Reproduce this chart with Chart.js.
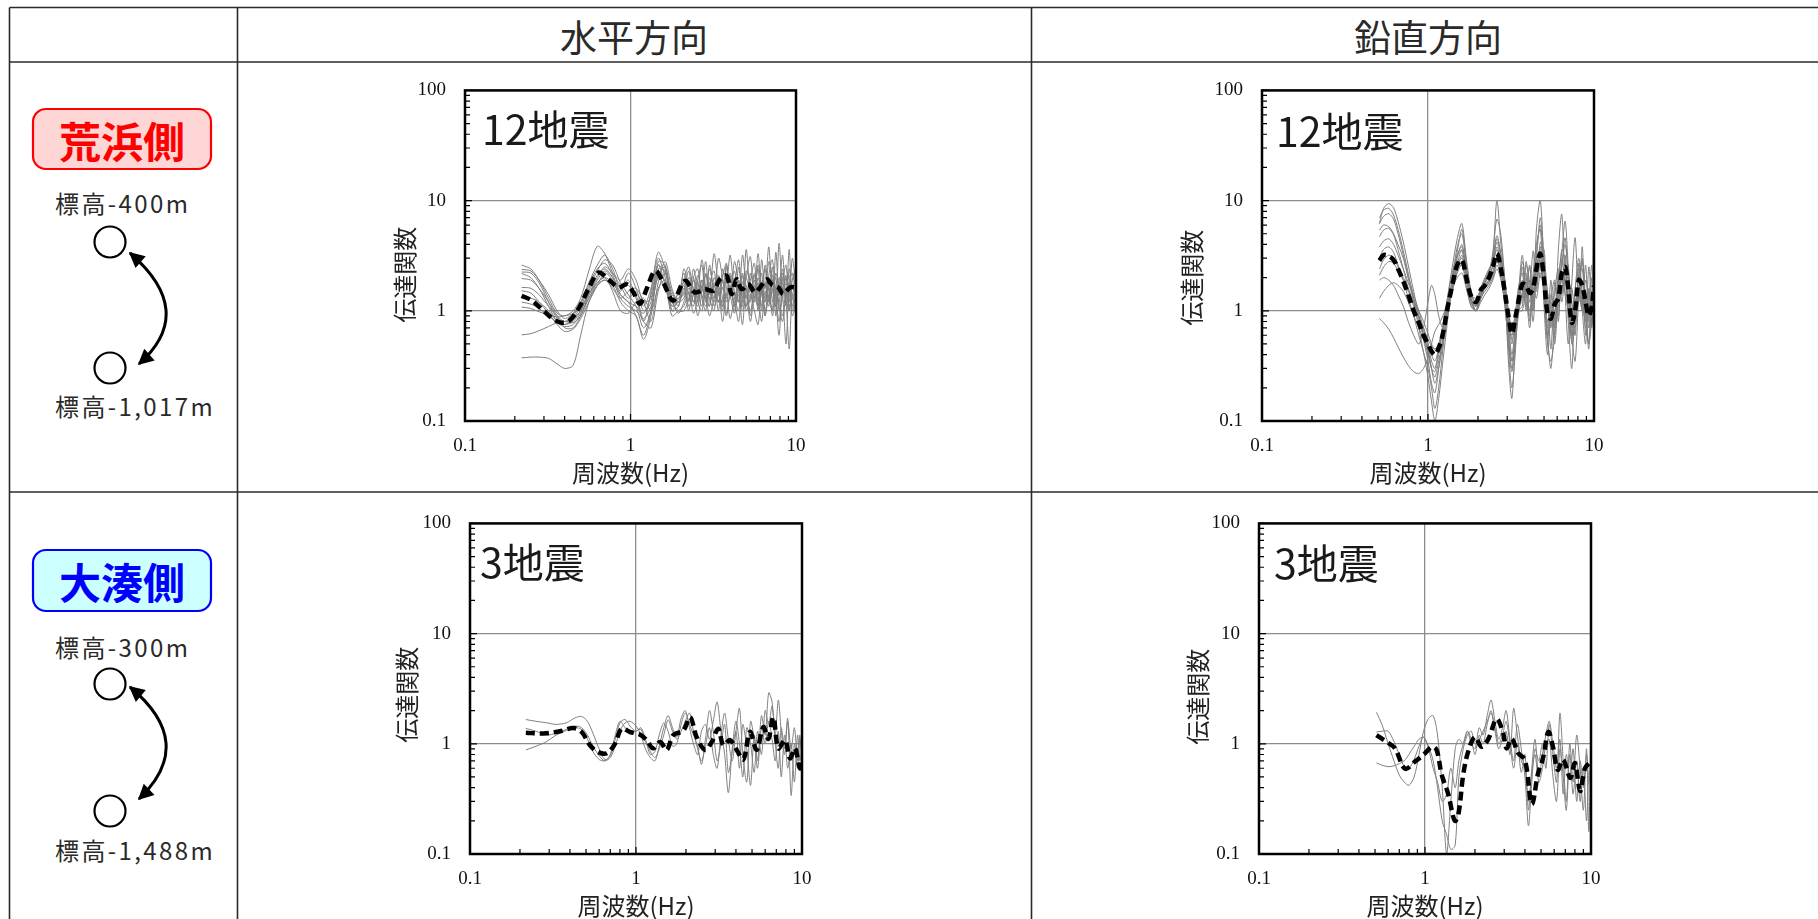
<!DOCTYPE html>
<html><head><meta charset="utf-8">
<script src="https://cdn.jsdelivr.net/npm/chart.js@4.4.1/dist/chart.umd.min.js"></script>
<style>
html,body{margin:0;padding:0;background:#fff;width:1818px;height:919px;overflow:hidden;}
#page{position:relative;width:1818px;height:919px;font-family:"Noto Sans CJK JP","Noto Sans",sans-serif;}
.t{position:absolute;white-space:nowrap;line-height:1;color:#2a2a2a;}
.c{transform:translate(-50%,-50%);}
.l{transform:translateY(-50%);}
canvas{position:absolute;}
</style></head>
<body><div id="page">
<svg width="1818" height="919" style="position:absolute;left:0;top:0">
<defs><marker id="ah" viewBox="0 0 10 10" refX="9" refY="5" markerWidth="6.5" markerHeight="5.2" orient="auto-start-reverse"><path d="M0,0 L10,5 L0,10 z" fill="#000"/></marker></defs>
<g stroke="#2a2a2a" stroke-width="1.6">
<line x1="9.5" y1="7.5" x2="1818" y2="7.5"/>
<line x1="9.5" y1="62" x2="1818" y2="62"/>
<line x1="9.5" y1="492" x2="1818" y2="492"/>
<line x1="9.5" y1="7.5" x2="9.5" y2="919"/>
<line x1="237.5" y1="7.5" x2="237.5" y2="919"/>
<line x1="1031.5" y1="7.5" x2="1031.5" y2="919"/>
</g>
<rect x="33" y="109" width="178" height="60" rx="13" fill="#ffd6d6" stroke="#ff0000" stroke-width="2.2"/>
<rect x="33" y="550" width="178" height="61" rx="13" fill="#ccffff" stroke="#0000ff" stroke-width="2.2"/>
<g fill="#fff" stroke="#000" stroke-width="2.2">
<circle cx="110" cy="242" r="15.5"/><circle cx="110" cy="368" r="15.5"/>
<circle cx="110" cy="684" r="15.5"/><circle cx="110" cy="811" r="15.5"/>
</g>
<g fill="none" stroke="#000" stroke-width="3">
<path d="M130,253 Q197.5,311.5 139,364" marker-start="url(#ah)" marker-end="url(#ah)"/>
<path d="M130,687 Q197.5,743 139,799" marker-start="url(#ah)" marker-end="url(#ah)"/>
</g>
</svg>
<div class="t c" style="left:634px;top:36px;font-size:37px;">水平方向</div>
<div class="t c" style="left:1428px;top:36px;font-size:37px;">鉛直方向</div>
<div class="t c" style="left:122px;top:140px;font-size:42px;font-weight:bold;color:#ff0000;">荒浜側</div>
<div class="t c" style="left:122px;top:581px;font-size:42px;font-weight:bold;color:#0000ff;">大湊側</div>
<div class="t l" style="left:55px;top:203px;font-size:24px;letter-spacing:2.4px;">標高-400m</div>
<div class="t l" style="left:55px;top:406px;font-size:24px;letter-spacing:2.4px;">標高-1,017m</div>
<div class="t l" style="left:55px;top:647px;font-size:24px;letter-spacing:2.4px;">標高-300m</div>
<div class="t l" style="left:55px;top:850px;font-size:24px;letter-spacing:2.4px;">標高-1,488m</div>
<canvas id="c1" width="451" height="433" style="left:375px;top:60px"></canvas>
<canvas id="c2" width="452" height="433" style="left:1172px;top:60px"></canvas>
<canvas id="c3" width="452" height="433" style="left:380px;top:493px"></canvas>
<canvas id="c4" width="452" height="433" style="left:1169px;top:493px"></canvas>
</div>
<script>
const X_TICKS=[0.1,1,10];
const Y_TICKS=[0.1,1,10,100];
const X_TITLE='周波数(Hz)';
const Y_TITLE='伝達関数';
const PANEL_LABELS=['12地震','12地震','3地震','3地震'];

// 荒浜側 水平方向
const ARA_H_FREQ=[0.22,0.25,0.28,0.32,0.36,0.40,0.45,0.50,0.56,0.63,0.70,0.78,0.87,0.97,1.08,1.20,1.33,1.47,1.62,1.78,1.95,2.10,2.25,2.40,2.55,2.70,2.85,3.00,3.20,3.40,3.60,3.80,4.00,4.25,4.50,4.75,5.00,5.30,5.60,5.90,6.20,6.50,6.85,7.20,7.55,7.90,8.30,8.70,9.10,9.50,10.0];
const ARA_H_EQ=[
[2.6,2.4,1.9,1.3,0.95,0.9,1.0,1.3,2.3,3.85,3.3,2.2,1.7,1.3,1.5,1.1,1.6,3.0,2.0,1.1,1.5,1.8,1.2,2.4,1.5,1.1,2.2,1.4,3.3,1.6,1.0,2.5,1.3,2.8,1.7,1.1,3.6,1.5,2.1,1.0,2.9,1.6,3.8,1.2,2.2,1.7,3.2,1.1,2.4,1.6,2.0],
[2.37,2.3,1.9,1.4,1.0,0.85,0.95,1.2,1.8,2.6,3.2,2.4,1.6,1.9,1.3,0.8,1.5,3.4,2.4,1.3,1.4,2.2,1.4,1.1,1.9,2.6,1.2,1.8,1.3,3.0,2.0,1.2,1.7,1.1,2.5,1.4,2.0,3.1,1.3,1.8,1.1,2.6,1.5,1.0,3.4,1.4,1.9,2.6,1.2,3.0,1.6],
[2.25,2.2,1.8,1.2,0.85,0.8,0.9,1.15,1.7,2.4,2.7,2.1,1.5,2.2,1.6,1.0,1.2,2.8,2.6,1.2,1.2,1.3,2.0,1.6,0.9,1.5,2.8,1.2,1.7,1.0,2.4,1.8,3.2,1.4,1.0,2.2,1.3,1.9,2.7,1.2,1.6,0.9,2.1,2.9,1.4,0.8,1.8,1.3,3.6,1.0,1.5],
[2.18,2.0,1.6,1.1,0.8,0.75,0.85,1.1,1.6,2.3,2.9,2.6,1.8,1.4,1.1,0.7,1.0,2.4,2.3,1.0,1.1,1.6,1.0,2.0,2.4,1.3,1.0,2.6,1.5,1.2,1.9,0.95,1.5,2.3,1.2,3.2,1.6,1.0,1.5,2.4,1.0,1.8,1.2,2.5,0.9,2.0,1.4,0.5,1.8,2.2,1.3],
[1.96,1.9,1.6,1.2,0.9,0.7,0.7,0.9,1.4,2.0,2.5,2.2,1.9,2.4,1.9,1.2,1.3,2.6,2.2,1.5,1.1,2.4,1.7,1.2,1.5,2.9,1.6,1.1,2.0,1.4,1.2,2.6,1.5,1.8,2.9,1.3,1.1,2.2,1.5,3.3,1.4,1.2,2.0,1.6,1.1,4.1,1.5,2.1,1.0,1.9,2.5],
[1.63,1.6,1.4,1.1,0.9,0.8,0.85,1.0,1.4,1.8,2.0,1.8,1.4,1.2,0.9,0.6,1.0,2.1,2.5,1.3,0.95,1.2,1.6,1.4,1.1,1.7,1.2,2.0,1.1,1.5,0.8,1.6,2.1,1.1,1.4,0.75,1.7,1.2,2.2,1.4,0.8,1.5,1.1,1.9,1.3,0.6,1.6,1.2,0.45,1.4,1.1],
[1.52,1.45,1.2,0.95,0.75,0.65,0.68,0.85,1.2,1.7,2.2,1.9,1.3,1.1,1.0,0.85,1.1,2.0,1.6,1.1,1.2,1.5,2.3,1.2,1.8,1.4,1.1,1.7,2.3,1.2,1.6,1.3,2.0,1.0,1.9,1.3,1.6,0.9,1.7,1.4,2.2,1.0,1.4,1.9,1.1,1.5,2.4,1.3,1.0,1.7,1.4],
[1.2,1.15,1.05,0.9,0.78,0.72,0.75,0.95,1.3,1.8,2.0,1.5,1.0,0.95,1.2,1.3,1.0,1.6,1.9,1.2,1.0,1.0,1.3,1.9,1.2,1.0,1.6,1.3,1.0,2.1,1.3,0.9,1.4,1.2,0.8,1.6,1.1,1.4,1.0,0.75,1.5,1.2,1.7,0.9,1.3,1.1,0.8,1.4,1.6,0.9,1.2],
[1.08,1.05,0.98,0.92,0.88,0.9,0.95,1.1,1.4,1.9,2.3,2.0,1.6,1.7,1.4,0.8,0.7,1.5,2.2,1.4,1.3,1.7,1.1,1.4,2.1,1.6,1.3,1.1,1.8,1.5,1.1,2.0,1.4,0.95,1.6,2.1,1.0,1.3,1.9,1.1,1.6,2.4,1.2,1.5,2.0,1.0,1.3,2.0,1.5,1.1,1.8],
[0.605,0.62,0.66,0.72,0.78,0.8,0.78,0.9,1.3,1.7,1.9,1.7,1.2,1.0,0.9,0.55,0.9,2.3,1.8,0.9,1.0,1.1,1.5,0.95,1.3,1.9,1.4,0.9,1.3,1.7,1.1,1.4,0.85,1.3,1.6,1.0,1.4,0.8,1.3,1.1,1.7,0.9,1.3,1.0,1.5,1.2,0.9,1.5,1.1,1.3,0.9],
[0.374,0.38,0.38,0.37,0.33,0.30,0.32,0.6,1.2,1.7,1.9,1.6,1.3,1.5,1.6,1.2,0.8,1.8,2.8,1.6,1.2,1.9,2.5,1.5,1.2,1.9,1.6,2.4,1.5,1.2,2.0,2.7,1.4,2.0,1.5,1.2,2.3,1.8,1.3,2.6,1.7,1.3,2.8,1.9,1.5,1.2,2.2,1.7,2.1,1.4,2.3],
[1.3,1.3,1.2,1.0,0.8,0.75,0.8,1.0,1.5,2.1,2.4,2.0,1.4,1.2,1.1,0.95,1.4,2.6,1.7,1.0,1.3,1.4,1.8,2.0,1.3,1.6,2.1,1.5,1.2,1.9,1.6,1.4,2.2,1.5,1.2,1.8,2.0,1.4,1.2,2.0,1.5,1.7,1.3,2.1,1.6,1.4,2.0,1.5,1.8,1.3,1.7]
];
const ARA_H_MEAN_FREQ=[0.22,0.253,0.304,0.342,0.384,0.43,0.484,0.556,0.64,0.735,0.845,0.95,1.04,1.14,1.25,1.41,1.58,1.81,2.13,2.45,2.82,3.16,3.47,3.81,4.08,4.38,4.70,5.15,5.65,6.06,6.65,7.12,7.82,8.38,9.2,10];
const ARA_H_MEAN=[1.37,1.24,0.975,0.84,0.78,0.82,1.04,1.57,2.22,1.93,1.63,1.74,1.47,1.16,1.57,2.30,1.80,1.24,1.87,1.47,1.57,1.52,1.93,2.07,1.42,1.93,1.57,1.74,1.47,1.63,1.93,1.74,1.63,1.42,1.63,1.63];

// 荒浜側 鉛直方向
const ARA_V_FREQ=[0.51,0.54,0.58,0.62,0.66,0.71,0.76,0.82,0.88,0.94,1.0,1.05,1.1,1.16,1.23,1.31,1.4,1.5,1.6,1.7,1.82,1.95,2.08,2.2,2.33,2.46,2.6,2.75,2.9,3.05,3.2,3.35,3.5,3.7,3.9,4.1,4.3,4.5,4.75,5.0,5.25,5.5,5.8,6.1,6.4,6.7,7.0,7.35,7.7,8.1,8.5,8.9,9.3,9.7,10.0];
const ARA_V_EQ=[
[6.2,8.5,9.4,8.6,6.5,4.2,2.6,1.5,0.9,0.55,0.35,0.22,0.18,0.3,0.6,1.3,2.5,4.5,6.2,3.0,1.5,1.1,1.4,1.8,2.2,3.2,10.0,4.0,2.0,0.8,0.4,0.7,1.4,3.2,1.4,2.6,1.1,5.5,10.0,2.4,0.7,1.9,0.6,3.6,7.5,1.5,0.5,1.8,4.6,1.2,3.8,0.6,2.5,1.3,3.5],
[7.0,8.2,8.5,7.4,5.5,3.5,2.2,1.3,0.85,0.6,0.42,0.3,0.25,0.35,0.55,1.0,2.0,3.8,5.0,2.6,1.3,1.0,1.6,2.0,2.4,2.8,4.2,3.0,1.6,0.6,0.3,0.55,1.1,1.3,2.8,1.6,3.5,1.5,4.2,3.0,1.4,0.45,1.8,0.9,2.6,4.0,2.2,1.2,0.6,2.7,1.1,2.6,0.8,2.0,1.2],
[5.4,6.0,5.8,5.0,4.0,3.0,2.0,1.4,1.0,0.7,0.5,0.35,0.3,0.45,0.75,1.3,2.2,3.2,3.5,2.2,1.4,1.2,1.5,1.9,2.3,3.0,4.5,3.2,1.8,1.0,0.5,0.9,1.6,2.2,1.0,1.9,1.3,3.0,2.0,3.6,1.0,1.4,0.7,2.0,1.4,3.2,1.0,0.55,1.6,2.4,1.0,0.5,1.6,0.7,2.4],
[4.7,5.4,5.6,4.9,3.6,2.4,1.6,1.1,0.8,0.6,0.45,0.3,0.22,0.3,0.5,0.9,1.8,3.0,4.0,2.4,1.2,1.0,1.3,1.6,1.9,2.6,3.8,2.8,1.6,0.7,0.35,0.5,0.9,1.5,2.2,0.8,1.7,2.4,3.8,1.3,0.55,1.3,1.9,0.8,3.0,1.8,2.6,0.7,1.2,1.6,2.8,1.1,0.45,1.5,0.9],
[3.8,4.3,4.5,4.0,3.2,2.4,1.8,1.3,0.9,0.7,0.55,0.48,0.45,0.5,0.7,1.1,1.7,2.6,3.0,2.0,1.3,1.1,1.4,1.6,1.8,2.3,3.0,2.6,1.6,0.9,0.55,0.7,1.0,1.0,1.6,2.5,1.2,1.8,2.6,1.6,1.2,0.7,1.5,2.4,1.2,2.0,1.0,1.6,0.9,1.4,1.0,1.9,1.3,0.8,1.6],
[3.0,3.6,3.8,3.4,2.6,1.9,1.3,0.9,0.6,0.42,0.3,0.2,0.13,0.2,0.45,1.0,1.9,3.2,3.8,2.3,1.2,1.0,1.6,1.8,2.1,2.6,3.6,2.6,1.2,0.5,0.28,0.6,1.2,2.5,1.2,0.9,2.2,4.0,5.5,1.1,0.4,0.9,0.5,1.6,3.6,2.8,0.8,0.3,1.5,3.0,1.4,0.7,1.2,2.6,1.0],
[2.4,2.9,3.2,3.0,2.5,2.0,1.6,1.2,0.9,0.65,0.5,0.4,0.35,0.45,0.65,1.0,1.5,2.2,2.6,1.9,1.4,1.2,1.5,1.7,1.9,2.2,2.8,2.2,1.4,0.8,0.6,0.8,1.1,1.8,1.3,1.6,1.0,2.0,2.4,2.2,1.5,1.0,1.2,1.5,1.9,2.4,1.3,1.0,1.4,1.3,1.7,1.2,0.9,1.3,1.5],
[2.1,2.5,2.8,2.7,2.3,1.9,1.5,1.2,1.0,0.8,0.62,0.5,0.45,0.5,0.7,1.0,1.5,2.3,3.2,2.0,1.2,1.1,1.4,1.6,1.8,2.1,2.9,2.4,1.5,1.0,0.7,0.9,1.2,1.4,2.0,1.2,1.5,1.6,3.2,1.4,0.8,1.1,0.8,1.3,1.6,2.2,1.9,0.9,0.7,2.0,1.3,0.8,1.5,1.0,1.3],
[1.3,1.5,1.7,1.8,1.7,1.5,1.2,0.9,0.7,0.55,0.4,0.3,0.28,0.4,0.7,1.2,1.7,2.4,2.6,1.7,1.1,1.0,1.3,1.5,1.7,2.0,2.6,2.0,1.1,0.55,0.35,0.6,1.0,1.9,1.1,1.5,0.8,2.2,2.9,1.5,0.6,0.8,1.0,1.4,2.0,1.4,1.0,0.6,1.1,1.6,1.0,1.5,0.7,1.2,0.9],
[0.85,0.78,0.68,0.57,0.47,0.38,0.32,0.28,0.27,0.3,0.38,0.5,0.65,0.75,0.9,1.2,1.6,2.0,2.2,1.6,1.1,1.0,1.2,1.4,1.6,1.9,2.4,1.9,1.2,0.75,0.6,0.8,1.1,1.2,1.5,1.0,1.6,1.3,2.2,1.8,1.0,1.2,0.7,1.1,1.5,1.9,1.2,0.8,0.9,1.4,1.2,0.8,1.0,0.75,1.2],
[1.9,2.0,1.9,1.7,1.4,1.1,0.8,0.6,0.5,0.7,1.2,1.7,1.4,0.9,0.7,1.0,1.6,2.6,3.6,2.4,1.4,1.3,1.6,1.9,2.3,3.0,4.8,3.2,1.4,0.45,0.2,0.4,1.0,1.1,2.6,1.8,1.0,3.4,6.0,2.2,0.6,0.3,0.9,1.9,2.6,4.6,1.8,0.5,0.8,2.2,2.4,0.9,0.5,1.4,2.0],
[6.2,7.2,7.6,6.8,5.0,3.2,2.0,1.2,0.7,0.42,0.25,0.15,0.1,0.16,0.35,0.8,1.7,3.4,5.5,2.8,1.3,1.0,1.3,1.7,2.2,3.4,6.8,4.8,1.8,0.35,0.16,0.5,1.1,2.8,1.5,0.7,1.9,3.0,7.0,2.8,0.5,0.35,0.6,2.0,3.4,6.5,2.4,0.6,0.35,1.4,3.0,1.2,0.5,0.9,17]
];
const ARA_V_MEAN=[2.86,3.2,3.15,2.9,2.4,1.85,1.4,1.0,0.78,0.6,0.5,0.43,0.40,0.46,0.62,1.05,1.7,2.6,2.9,2.0,1.35,1.2,1.55,1.7,2.0,2.5,3.3,2.4,1.5,0.9,0.62,0.85,1.2,1.75,1.7,1.45,1.6,2.4,3.3,1.9,0.95,0.85,1.15,1.3,2.2,2.5,1.6,0.78,1.0,1.9,1.7,1.2,0.9,1.1,1.7];

// 大湊側 水平方向
const OMI_H_FREQ=[0.217,0.25,0.29,0.33,0.38,0.43,0.47,0.51,0.55,0.6,0.65,0.7,0.75,0.8,0.86,0.92,1.0,1.07,1.14,1.22,1.3,1.38,1.47,1.56,1.66,1.76,1.87,1.98,2.1,2.22,2.35,2.48,2.62,2.77,2.92,3.08,3.25,3.42,3.6,3.8,4.0,4.2,4.4,4.65,4.9,5.15,5.4,5.7,6.0,6.3,6.6,6.9,7.2,7.5,7.85,8.2,8.6,9.0,9.4,9.7,10.0];
const OMI_H_EQ=[
[1.66,1.6,1.55,1.5,1.55,1.72,1.77,1.6,1.25,0.9,0.72,0.78,1.1,1.55,1.66,1.45,1.3,1.4,1.1,0.8,0.85,1.2,1.55,1.3,0.95,1.0,1.5,1.9,1.5,1.2,0.95,0.65,1.1,2.0,1.3,0.7,1.0,1.5,0.55,0.85,1.3,0.6,1.5,0.9,0.42,1.2,0.7,1.8,1.2,2.9,2.4,1.2,2.5,1.3,0.8,1.6,0.9,1.4,0.7,1.1,0.8],
[1.38,1.3,1.2,1.25,1.35,1.45,1.4,1.2,0.95,0.78,0.7,0.8,1.2,1.6,1.4,1.25,1.3,1.35,1.05,0.85,0.75,0.9,1.2,1.65,1.3,1.15,1.7,2.0,1.4,1.0,0.8,1.3,1.5,1.1,1.6,2.4,1.3,0.8,0.36,0.9,1.6,1.0,0.5,1.4,1.0,0.55,1.3,0.8,2.0,1.5,2.2,1.0,0.6,1.4,0.9,1.7,0.34,1.0,0.6,1.2,0.5],
[0.88,0.95,1.05,1.2,1.32,1.4,1.35,1.1,0.85,0.72,0.7,0.75,0.95,1.3,1.55,1.6,1.45,1.2,0.9,0.75,0.7,0.95,1.4,1.8,1.4,1.1,1.3,1.6,1.9,1.3,0.9,0.7,0.95,1.4,0.8,0.6,1.2,1.9,1.1,0.7,1.3,2.1,0.8,0.45,1.6,1.1,0.6,1.4,1.0,1.6,1.1,0.7,1.3,0.5,1.2,0.6,1.0,0.45,1.2,0.7,0.9]
];
const OMI_H_MEAN_FREQ=[0.217,0.277,0.348,0.419,0.471,0.528,0.593,0.666,0.747,0.82,0.92,1.06,1.16,1.27,1.40,1.53,1.68,1.93,2.12,2.32,2.61,2.86,3.13,3.36,3.68,4.04,4.43,4.86,5.33,5.85,6.27,6.72,7.2,7.9,8.47,9.07,9.72,10];
const OMI_H_MEAN=[1.26,1.24,1.30,1.39,1.28,0.97,0.84,0.82,1.0,1.37,1.28,1.21,1.08,0.91,1.04,0.88,1.20,1.32,1.74,1.15,0.88,1.04,1.37,0.97,1.08,0.88,0.72,1.28,0.88,1.42,1.11,1.74,0.91,1.08,0.74,0.91,0.60,0.69];

// 大湊側 鉛直方向
const OMI_V_FREQ=[0.51,0.55,0.6,0.65,0.7,0.75,0.8,0.86,0.92,0.98,1.05,1.12,1.19,1.27,1.35,1.43,1.52,1.6,1.7,1.8,1.9,2.0,2.12,2.24,2.37,2.5,2.64,2.78,2.93,3.08,3.25,3.42,3.6,3.8,4.0,4.2,4.4,4.6,4.85,5.1,5.35,5.6,5.9,6.2,6.5,6.8,7.1,7.45,7.8,8.2,8.6,9.0,9.4,9.7,10.0];
const OMI_V_EQ=[
[1.93,1.5,1.0,0.7,0.52,0.45,0.42,0.5,0.8,1.3,1.7,1.8,1.2,0.4,0.1,0.3,0.9,1.1,1.0,1.3,1.0,0.9,1.4,1.2,1.8,2.5,1.6,1.1,1.4,2.0,1.1,0.7,1.5,0.9,0.5,0.18,0.45,0.9,0.7,1.0,0.6,1.5,0.8,0.45,1.9,0.7,0.3,1.0,0.45,1.2,0.6,0.25,0.9,0.16,1.8],
[1.28,1.3,1.3,1.05,0.8,0.62,0.6,0.72,0.95,1.15,0.95,0.7,0.4,0.2,0.15,0.11,0.12,0.5,0.9,1.2,1.3,1.0,1.1,1.3,1.6,1.9,1.4,1.0,1.2,1.6,1.0,0.6,1.0,0.55,0.8,0.25,0.6,1.1,0.5,0.8,1.2,1.6,1.0,0.6,1.1,0.35,0.8,0.5,0.9,0.3,0.7,0.4,0.8,0.5,0.7],
[0.67,0.64,0.62,0.63,0.66,0.7,0.8,0.95,1.1,1.15,0.9,0.6,0.45,0.3,0.35,0.6,0.4,0.7,1.0,1.3,1.1,0.8,1.2,1.0,1.5,2.0,1.3,0.9,1.1,1.3,0.8,2.1,1.2,0.7,0.6,0.3,0.55,0.8,0.45,0.6,1.0,1.1,0.5,0.3,0.9,0.5,0.25,0.8,0.35,0.7,0.3,0.6,0.2,0.5,0.4]
];
const OMI_V_MEAN_FREQ=[0.51,0.587,0.659,0.758,0.871,1.0,1.10,1.175,1.26,1.38,1.51,1.59,1.70,1.82,2.0,2.19,2.41,2.70,2.96,3.1,3.33,3.65,4.0,4.4,4.8,5.15,5.53,5.9,6.3,6.8,7.5,8.0,8.6,9.2,10];
const OMI_V_MEAN=[1.2,1.04,0.91,0.595,0.69,0.82,0.94,0.88,0.526,0.35,0.20,0.23,0.526,0.85,1.15,0.94,1.11,1.68,1.24,0.91,1.11,0.82,0.716,0.284,0.54,0.75,1.28,0.94,0.58,0.716,0.49,0.667,0.373,0.60,0.69];

function pts(f,v){return f.map((x,i)=>({x:x,y:v[i]}));}

const deco={id:'deco',afterDraw(chart){
  const o=chart.options.plugins.deco; const ctx=chart.ctx; const a=chart.chartArea;
  const xs=chart.scales.x, ys=chart.scales.y;
  ctx.save();
  ctx.strokeStyle='#000'; ctx.lineWidth=1.2;
  ctx.beginPath();
  for(let e=-1;e<=2;e++){for(let k=1;k<=9;k++){const v=k*Math.pow(10,e); if(v>100.0001)break; const py=ys.getPixelForValue(v); const len=k===1?7:5; ctx.moveTo(a.left,py); ctx.lineTo(a.left+len,py);}}
  for(let e=-1;e<=1;e++){for(let k=1;k<=9;k++){const v=k*Math.pow(10,e); if(v>10.0001)break; const px=xs.getPixelForValue(v); const len=k===1?7:5; ctx.moveTo(px,a.bottom); ctx.lineTo(px,a.bottom-len);}}
  ctx.stroke();
  ctx.lineWidth=2.5; ctx.strokeRect(a.left,a.top,a.right-a.left,a.bottom-a.top);
  ctx.fillStyle='#1a1a1a'; ctx.textBaseline='middle'; ctx.textAlign='left';
  ctx.font='41px "Noto Sans CJK JP"'; ctx.fillText(o.label,a.left+o.lx,a.top+o.ly);
  ctx.translate(a.left-o.yOff,(a.top+a.bottom)/2+o.yDy); ctx.rotate(-Math.PI/2);
  ctx.textAlign='center'; ctx.font='24px "Noto Sans CJK JP"'; ctx.fillStyle='#222'; ctx.fillText(Y_TITLE,0,0);
  ctx.restore();
}};

function makeChart(id,f,eq,mf,mv,p){
  const datasets=[{data:pts(mf,mv),borderColor:'#000',borderWidth:4.5,borderDash:[9,5],pointRadius:0,tension:0.35,borderCapStyle:'butt'}];
  eq.forEach(v=>datasets.push({data:pts(f,v),borderColor:'#808080',borderWidth:1,pointRadius:0,tension:0.3}));
  new Chart(document.getElementById(id),{type:'line',data:{datasets},options:{
    responsive:false,animation:false,devicePixelRatio:1,
    layout:{padding:{left:0,top:24,right:30,bottom:0}},
    plugins:{legend:{display:false},tooltip:{enabled:false},deco:p},
    scales:{
      x:{type:'logarithmic',min:0.1,max:10,
        afterBuildTicks:s=>{s.ticks=X_TICKS.map(v=>({value:v}));},
        afterFit:s=>{s.height=72;},
        grid:{color:'#8c8c8c',lineWidth:1.3,drawTicks:false},border:{display:false},
        ticks:{callback:v=>String(v),padding:14,font:{family:'Liberation Serif',size:19},color:'#111',maxRotation:0,autoSkip:false},
        title:{display:true,text:X_TITLE,font:{family:'Noto Sans CJK JP',size:24},color:'#222',padding:{top:0,bottom:6}}},
      y:{type:'logarithmic',min:0.1,max:100,
        afterBuildTicks:s=>{s.ticks=Y_TICKS.map(v=>({value:v}));},
        afterFit:s=>{s.width=90;},
        grid:{color:'#8c8c8c',lineWidth:1.3,drawTicks:false},border:{display:false},
        ticks:{callback:v=>String(v),padding:19,font:{family:'Liberation Serif',size:19},color:'#111',autoSkip:false}}
    }},plugins:[deco]});
}

makeChart('c1',ARA_H_FREQ,ARA_H_EQ,ARA_H_MEAN_FREQ,ARA_H_MEAN,{label:PANEL_LABELS[0],lx:17,ly:39,yOff:60,yDy:19});
makeChart('c2',ARA_V_FREQ,ARA_V_EQ,ARA_V_FREQ,ARA_V_MEAN,{label:PANEL_LABELS[1],lx:14,ly:41,yOff:70,yDy:22});
makeChart('c3',OMI_H_FREQ,OMI_H_EQ,OMI_H_MEAN_FREQ,OMI_H_MEAN,{label:PANEL_LABELS[2],lx:10,ly:39,yOff:63,yDy:6});
makeChart('c4',OMI_V_FREQ,OMI_V_EQ,OMI_V_MEAN_FREQ,OMI_V_MEAN,{label:PANEL_LABELS[3],lx:15,ly:40,yOff:61,yDy:8});
</script>
</body></html>
